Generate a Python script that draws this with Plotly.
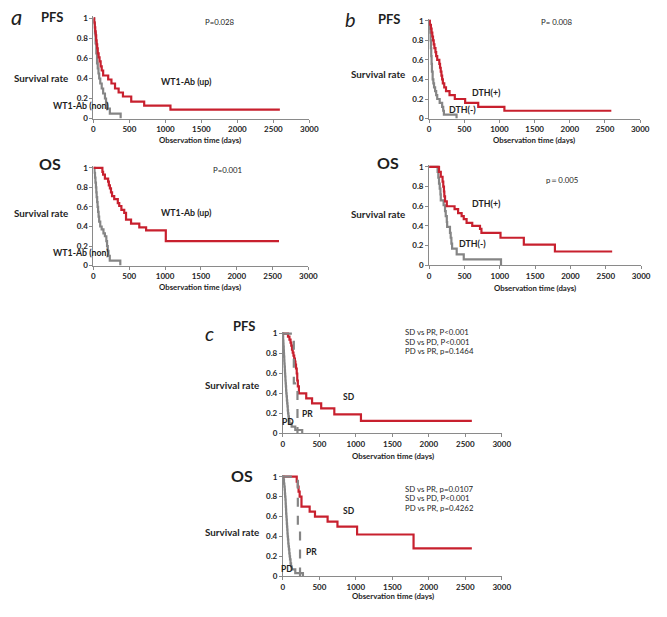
import plotly.graph_objects as go

# the page body has an 8px margin: the figure is drawn inside it
OFF = 8
W, H = 667 - 2 * OFF, 617 - 2 * OFF
FONT = "Lato"
RED = "#c8202e"
GREY = "#858585"
TXT = "#1e1e1e"
AX = "#8a8a8a"

# ---------------- data (event day, survival after event) ----------------
# Panel a: WT1-Ab
a_pfs_up_t = [10, 18, 25, 32, 38, 45, 52, 60, 72, 85, 100, 115, 135, 205, 250, 300, 350, 410, 525, 705, 1070]
a_pfs_up_s = [0.96, 0.91, 0.87, 0.83, 0.78, 0.74, 0.70, 0.65, 0.61, 0.57, 0.52, 0.48, 0.43, 0.39, 0.35, 0.30, 0.26, 0.22, 0.17, 0.13, 0.09]
a_pfs_up_end = 2590
a_pfs_non_t = [10, 20, 30, 40, 50, 60, 70, 80, 95, 115, 135, 160, 175, 190, 228, 378]
a_pfs_non_s = [0.95, 0.85, 0.75, 0.65, 0.55, 0.50, 0.45, 0.40, 0.35, 0.30, 0.25, 0.20, 0.15, 0.10, 0.05, 0.0]

a_os_up_t = [125, 135, 160, 205, 215, 230, 245, 260, 290, 340, 360, 390, 430, 455, 525, 640, 735, 1010]
a_os_up_s = [0.96, 0.93, 0.89, 0.86, 0.82, 0.79, 0.75, 0.71, 0.68, 0.64, 0.61, 0.57, 0.54, 0.47, 0.43, 0.39, 0.36, 0.25]
a_os_up_end = 2590
a_os_non_t = [15, 22, 28, 35, 40, 45, 52, 58, 65, 72, 80, 95, 115, 140, 160, 180, 190, 200, 210, 228, 375]
a_os_non_s = [0.95, 0.90, 0.85, 0.80, 0.75, 0.70, 0.65, 0.60, 0.55, 0.50, 0.45, 0.40, 0.37, 0.33, 0.30, 0.25, 0.20, 0.15, 0.10, 0.05, 0.0]

# Panel b: DTH
b_pfs_pos_t = [10, 25, 35, 45, 55, 65, 75, 90, 100, 115, 145, 155, 165, 175, 185, 195, 215, 240, 290, 365, 512, 698, 1070]
b_pfs_pos_s = [0.96, 0.92, 0.88, 0.84, 0.80, 0.76, 0.72, 0.68, 0.64, 0.60, 0.56, 0.52, 0.48, 0.44, 0.40, 0.36, 0.32, 0.28, 0.24, 0.20, 0.16, 0.12, 0.08]
b_pfs_pos_end = 2590
b_pfs_neg_t = [5, 10, 15, 20, 25, 30, 35, 40, 50, 60, 70, 85, 100, 115, 150, 185, 200, 210, 390]
b_pfs_neg_s = [0.96, 0.92, 0.88, 0.80, 0.72, 0.64, 0.56, 0.48, 0.40, 0.36, 0.32, 0.28, 0.24, 0.20, 0.16, 0.12, 0.08, 0.04, 0.0]

b_os_pos_t = [140, 165, 190, 200, 210, 215, 225, 250, 360, 410, 460, 490, 530, 610, 720, 740, 1010, 1340, 1780]
b_os_pos_s = [0.95, 0.90, 0.85, 0.80, 0.75, 0.70, 0.65, 0.60, 0.57, 0.53, 0.50, 0.47, 0.43, 0.40, 0.37, 0.33, 0.28, 0.21, 0.14]
b_os_pos_end = 2590
b_os_neg_t = [120, 130, 140, 150, 160, 165, 205, 225, 235, 250, 255, 295, 305, 315, 325, 390, 490, 1017]
b_os_neg_s = [0.95, 0.89, 0.83, 0.78, 0.72, 0.66, 0.61, 0.55, 0.50, 0.44, 0.39, 0.33, 0.28, 0.22, 0.17, 0.11, 0.06, 0.0]

# Panel c: response (SD / PR / PD)
c_pfs_sd_t = [70, 90, 105, 115, 125, 135, 145, 155, 165, 172, 180, 190, 197, 205, 220, 320, 400, 525, 705, 1070]
c_pfs_sd_s = [0.97, 0.94, 0.91, 0.88, 0.84, 0.81, 0.78, 0.75, 0.72, 0.69, 0.65, 0.60, 0.53, 0.47, 0.40, 0.35, 0.30, 0.25, 0.19, 0.125]
c_pfs_sd_end = 2590
c_pfs_pr_t = [150, 200]
c_pfs_pr_s = [0.5, 0.0]
c_pfs_pd_t = [2, 4, 7, 9, 12, 14, 16, 19, 21, 24, 27, 29, 32, 35, 38, 41, 44, 47, 51, 55, 59, 63, 67, 71, 76, 82, 90, 120, 170, 265]
c_pfs_pd_s = [0.97, 0.93, 0.90, 0.87, 0.83, 0.80, 0.77, 0.73, 0.70, 0.67, 0.63, 0.60, 0.57, 0.53, 0.50, 0.47, 0.43, 0.40, 0.37, 0.33, 0.30, 0.27, 0.23, 0.20, 0.17, 0.13, 0.10, 0.067, 0.033, 0.0]

c_os_sd_t = [190, 205, 215, 230, 255, 367, 440, 613, 748, 1017, 1791]
c_os_sd_s = [0.95, 0.90, 0.85, 0.80, 0.70, 0.65, 0.60, 0.55, 0.50, 0.42, 0.28]
c_os_sd_end = 2590
c_os_pr_t = [205, 235]
c_os_pr_s = [0.5, 0.0]
c_os_pd_t = [10, 15, 20, 25, 28, 31, 35, 38, 40, 43, 45, 48, 51, 54, 57, 60, 63, 66, 70, 74, 78, 83, 88, 93, 98, 105, 112, 120, 170, 275]
c_os_pd_s = [0.97, 0.93, 0.90, 0.87, 0.83, 0.80, 0.77, 0.73, 0.70, 0.67, 0.63, 0.60, 0.57, 0.53, 0.50, 0.47, 0.43, 0.40, 0.37, 0.33, 0.30, 0.27, 0.23, 0.20, 0.17, 0.13, 0.10, 0.07, 0.033, 0.0]

x_ticks = [0, 500, 1000, 1500, 2000, 2500, 3000]
y_ticks = [0, 0.2, 0.4, 0.6, 0.8, 1]
y_tick_text = ["0", "0.2", "0.4", "0.6", "0.8", "1"]

# ---------------- layout geometry (window pixels) ----------------
# (x at day 0, x at day 3000, y at rate 0, y at rate 1)
panels = [
    (93, 313, 117, 15.5),
    (93, 312, 266, 167),
    (435, 650, 117, 18),
    (435, 651, 265.7, 166),
    (286, 509, 436, 335),
    (286, 509, 581, 480),
]
YTOP = 1.02


def px(x):
    return (x - OFF) / W


def py(y):
    return 1 - (y - OFF) / H


fig = go.Figure()


def curve(ax, t, s, end, color, dash="solid", width=2.2):
    x = [0] + list(t)
    y = [1] + list(s)
    if end is not None:
        x.append(end)
        y.append(s[-1])
    fig.add_trace(go.Scatter(x=x, y=y, mode="lines", line=dict(color=color, width=width, shape="hv", dash=dash),
                             xaxis="x" + ax, yaxis="y" + ax, showlegend=False, hoverinfo="skip"))


curves = [
    ("", a_pfs_non_t, a_pfs_non_s, None, GREY, "solid"),
    ("", a_pfs_up_t, a_pfs_up_s, a_pfs_up_end, RED, "solid"),
    ("2", a_os_non_t, a_os_non_s, None, GREY, "solid"),
    ("2", a_os_up_t, a_os_up_s, a_os_up_end, RED, "solid"),
    ("3", b_pfs_neg_t, b_pfs_neg_s, None, GREY, "solid"),
    ("3", b_pfs_pos_t, b_pfs_pos_s, b_pfs_pos_end, RED, "solid"),
    ("4", b_os_neg_t, b_os_neg_s, None, GREY, "solid"),
    ("4", b_os_pos_t, b_os_pos_s, b_os_pos_end, RED, "solid"),
    ("5", c_pfs_pd_t, c_pfs_pd_s, None, GREY, "solid"),
    ("5", c_pfs_sd_t, c_pfs_sd_s, c_pfs_sd_end, RED, "solid"),
    ("5", c_pfs_pr_t, c_pfs_pr_s, None, GREY, "dash"),
    ("6", c_os_pd_t, c_os_pd_s, None, GREY, "solid"),
    ("6", c_os_sd_t, c_os_sd_s, c_os_sd_end, RED, "solid"),
    ("6", c_os_pr_t, c_os_pr_s, None, GREY, "dash"),
]
for ax, t, s, end, col, dash in curves:
    curve(ax, t, s, end, col, dash)

layout = dict(width=W, height=H, margin=dict(l=0, r=0, t=0, b=0), paper_bgcolor="white",
              plot_bgcolor="white", showlegend=False)

tickfont = dict(family=FONT, size=8, color=TXT, weight="bold")
for i, (x0, x1, y0, y1) in enumerate(panels):
    n = "" if i == 0 else str(i + 1)
    top = y0 - YTOP * (y0 - y1)
    layout["xaxis" + n] = dict(domain=[px(x0), px(x1)], range=[0, 3000], anchor="y" + n,
                               tickvals=x_ticks, ticks="outside", ticklen=3, tickcolor=AX,
                               showline=True, linecolor=AX, linewidth=1, showgrid=False,
                               zeroline=False, tickfont=tickfont, fixedrange=True)
    layout["yaxis" + n] = dict(domain=[py(y0), py(top)], range=[0, YTOP], anchor="x" + n,
                               tickvals=y_ticks, ticktext=y_tick_text, ticks="outside", ticklen=3,
                               tickcolor=AX, showline=True, linecolor=AX, linewidth=1,
                               showgrid=False, zeroline=False, tickfont=tickfont, fixedrange=True)

anns = []


def T(text, x, y, size, bold=False, italic=False, xanchor="left"):
    anns.append(dict(text=text, x=px(x), y=py(y), xref="paper", yref="paper", showarrow=False,
                     xanchor=xanchor, yanchor="middle",
                     font=dict(family=FONT, size=size, color=TXT,
                               weight="bold" if bold else "normal",
                               style="italic" if italic else "normal")))


SR = 9.8   # "Survival rate"
CL = 8.8   # curve labels
PV = 7.8   # p-values
OT = 7.8   # axis title

# panel a
T("a", 15, 14, 22, italic=True, xanchor="center")
T("PFS", 51, 14, 13, bold=True, xanchor="center")
T("Survival rate", 10, 76, SR, bold=True)
T("P=0.028", 205, 19.5, PV)
T("WT1-Ab (up)", 160, 79, CL, bold=True)
T("WT1-Ab (non)", 50, 104, CL, bold=True)
T("Observation time (days)", 202, 139, OT, bold=True, xanchor="center")
T("OS", 49, 163, 16, bold=True, xanchor="center")
T("Survival rate", 10, 212.5, SR, bold=True)
T("P=0.001", 213, 169.5, PV)
T("WT1-Ab (up)", 160, 212.5, CL, bold=True)
T("WT1-Ab (non)", 50, 252.5, CL, bold=True)
T("Observation time (days)", 202, 287.5, OT, bold=True, xanchor="center")
# panel b
T("b", 355, 16, 20, italic=True, xanchor="center")
T("PFS", 394, 16, 13, bold=True, xanchor="center")
T("Survival rate", 353, 71.5, SR, bold=True)
T("P= 0.008", 547, 19.5, PV)
T("DTH(+)", 477, 91, CL, bold=True)
T("DTH(-)", 453, 107.5, CL, bold=True)
T("Observation time (days)", 542, 139, OT, bold=True, xanchor="center")
T("OS", 393.5, 162, 16, bold=True, xanchor="center")
T("Survival rate", 353, 214, SR, bold=True)
T("p＝0.005", 552, 179.5, PV)
T("DTH(+)", 477, 203.5, CL, bold=True)
T("DTH(-)", 463, 243.5, CL, bold=True)
T("Observation time (days)", 543, 288.5, OT, bold=True, xanchor="center")
# panel c
T("c", 211, 334, 20, italic=True, xanchor="center")
T("PFS", 246.5, 327.5, 13, bold=True, xanchor="center")
T("Survival rate", 205, 387.5, SR, bold=True)
T("SD vs PR, P<0.001", 408, 333, PV)
T("SD vs PD, P<0.001", 408, 343, PV)
T("PD vs PR, p=0.1464", 408, 353, PV)
T("SD", 345, 399, 8.5, bold=True)
T("PR", 303, 416.5, 8.5, bold=True)
T("PD", 283, 425, 8.5, bold=True)
T("Observation time (days)", 398, 458.5, OT, bold=True, xanchor="center")
T("OS", 244, 479, 16, bold=True, xanchor="center")
T("Survival rate", 205, 536, SR, bold=True)
T("SD vs PR, p=0.0107", 408, 492, PV)
T("SD vs PD, P<0.001", 408, 502, PV)
T("PD vs PR, p=0.4262", 408, 512, PV)
T("SD", 345, 515, 8.5, bold=True)
T("PR", 308, 556.5, 8.5, bold=True)
T("PD", 282, 573.5, 8.5, bold=True)
T("Observation time (days)", 398, 601, OT, bold=True, xanchor="center")

layout["annotations"] = anns
fig.update_layout(**layout)
fig.write_html("out.html")
